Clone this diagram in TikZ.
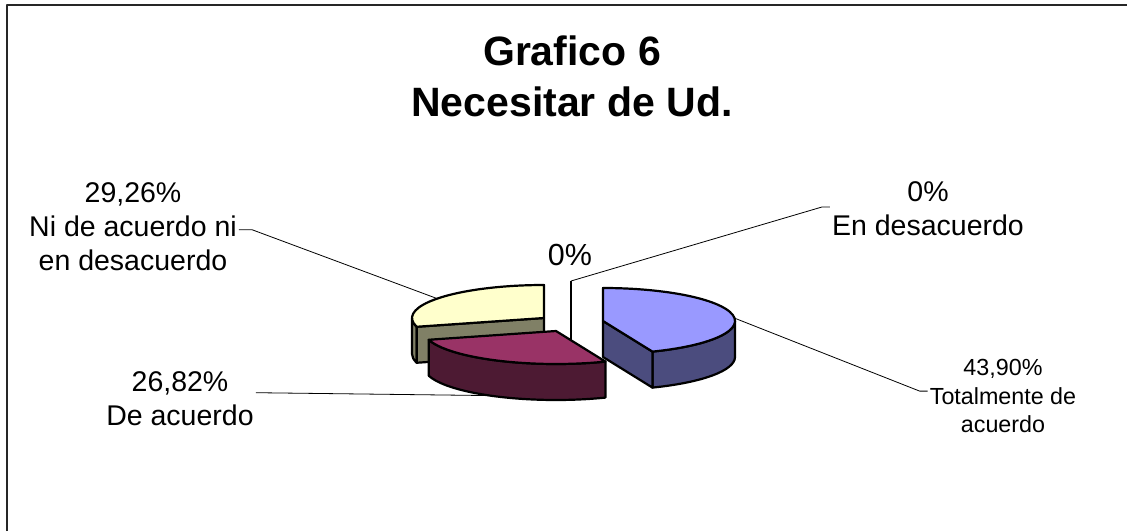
\documentclass[tikz,border=0pt]{standalone}
\usepackage{fontspec}
\setmainfont{Liberation Sans}
\usepackage{xcolor}
\usepackage{tikz}
\usetikzlibrary{calc}

\definecolor{azulclaro}{HTML}{9999FF}
\definecolor{azuloscuro}{HTML}{4B4C7E}
\definecolor{vinoclaro}{HTML}{993366}
\definecolor{vinooscuro}{HTML}{4D1A33}
\definecolor{cremaclaro}{HTML}{FFFFCC}
\definecolor{cremaoscuro}{HTML}{808066}

\begin{document}
\begin{tikzpicture}[x=1pt, y=1pt, line join=round,
    cara/.style={draw=black, line width=2.2pt},
    guia/.style={draw=black, line width=0.8pt},
    rotulo/.style={align=center, inner sep=2pt, font=\fontsize{28.5}{34}\selectfont}]
    \useasboundingbox (0,0) rectangle (1127,531);
    \draw [line width=2pt, draw=black!85] (6.5,0) -- (6.5,525.5) -- (1127,525.5);
    % slice centres
    \coordinate (azul) at (603, 210);
    \coordinate (vino) at (556, 200);
    \coordinate (crema) at (544, 213);
    \coordinate (cero) at (571, 217);
    % yellow slice
    \filldraw [cara, fill=cremaoscuro] ($(crema)+(180:132 and 33)$) arc[start angle=180, end angle=195.4, x radius=132, y radius=33] -- ++(0,-36) arc[start angle=195.4, end angle=180, x radius=132, y radius=33] -- cycle;
    \filldraw [cara, fill=cremaoscuro] (crema) -- ($(crema)+(195.4:132 and 33)$) -- ++(0,-36) -- ($(crema)+(0,-36)$) -- cycle;
    \filldraw [cara, fill=cremaclaro] (crema) -- ($(crema)+(90:132 and 33)$) arc[start angle=90, end angle=195.4, x radius=132, y radius=33] -- cycle;
    % zero slice
    \coordinate (cerotop) at ($(cero)+(90:132 and 33)$);
    \draw [cara] (cerotop) -- ($(cero)+(0,-36)$);
    % blue slice
    \filldraw [cara, fill=azuloscuro] ($(azul)+(-68:132 and 33)$) arc[start angle=-68, end angle=0, x radius=132, y radius=33] -- ++(0,-36) arc[start angle=0, end angle=-68, x radius=132, y radius=33] -- cycle;
    \filldraw [cara, fill=azuloscuro] (azul) -- ($(azul)+(-68:132 and 33)$) -- ++(0,-36) -- ($(azul)+(0,-36)$) -- cycle;
    \filldraw [cara, fill=azulclaro] (azul) -- ($(azul)+(-68:132 and 33)$) arc[start angle=-68, end angle=90, x radius=132, y radius=33] -- cycle;
    % maroon slice
    \filldraw [cara, fill=vinooscuro] ($(vino)+(-164.6:132 and 33)$) arc[start angle=-164.6, end angle=-68, x radius=132, y radius=33] -- ++(0,-36) arc[start angle=-68, end angle=-164.6, x radius=132, y radius=33] -- cycle;
    \filldraw [cara, fill=vinoclaro] (vino) -- ($(vino)+(-164.6:132 and 33)$) arc[start angle=-164.6, end angle=-68, x radius=132, y radius=33] -- cycle;
    % leader ends on the slices
    \coordinate (crematip) at ($(crema)+(144:132 and 33)$);
    \coordinate (vinotip) at ($(vino)+(0,-36)+(-120:132 and 33)$);
    \coordinate (azultip) at ($(azul)+(5:132 and 33)$);
    % labels
    \node (titulo) [align=center, font=\fontsize{41}{51}\selectfont\bfseries] at (572, 454.5) {Grafico 6\\Necesitar de Ud.};
    \node (nilabel) [rotulo] at (133, 304.3) {29,26\%\\Ni de acuerdo ni\\en desacuerdo};
    \node (delabel) [rotulo] at (180, 132.3) {26,82\%\\De acuerdo};
    \node (cerolabel) [rotulo] at (928, 322) {0\%\\En desacuerdo};
    \node (cerocentro) [font=\fontsize{30.5}{36}\selectfont] at (570, 276) {0\%};
    \node (totallabel) [align=center, inner sep=2pt, font=\fontsize{23.3}{28.5}\selectfont] at (1003, 134.9) {43,90\%\\Totalmente de\\acuerdo};
    \draw [guia] ([yshift=-3]nilabel.east) -- ++(13,0) -- (crematip);
    \draw [guia] ([yshift=6]delabel.east) -- (vinotip);
    \draw [guia] ([yshift=2]cerolabel.west) -- ++(-8,0) -- (cerotop);
    \draw [guia] ([yshift=5]totallabel.west) -- ++(-8,0) -- (azultip);
\end{tikzpicture}
\end{document}
